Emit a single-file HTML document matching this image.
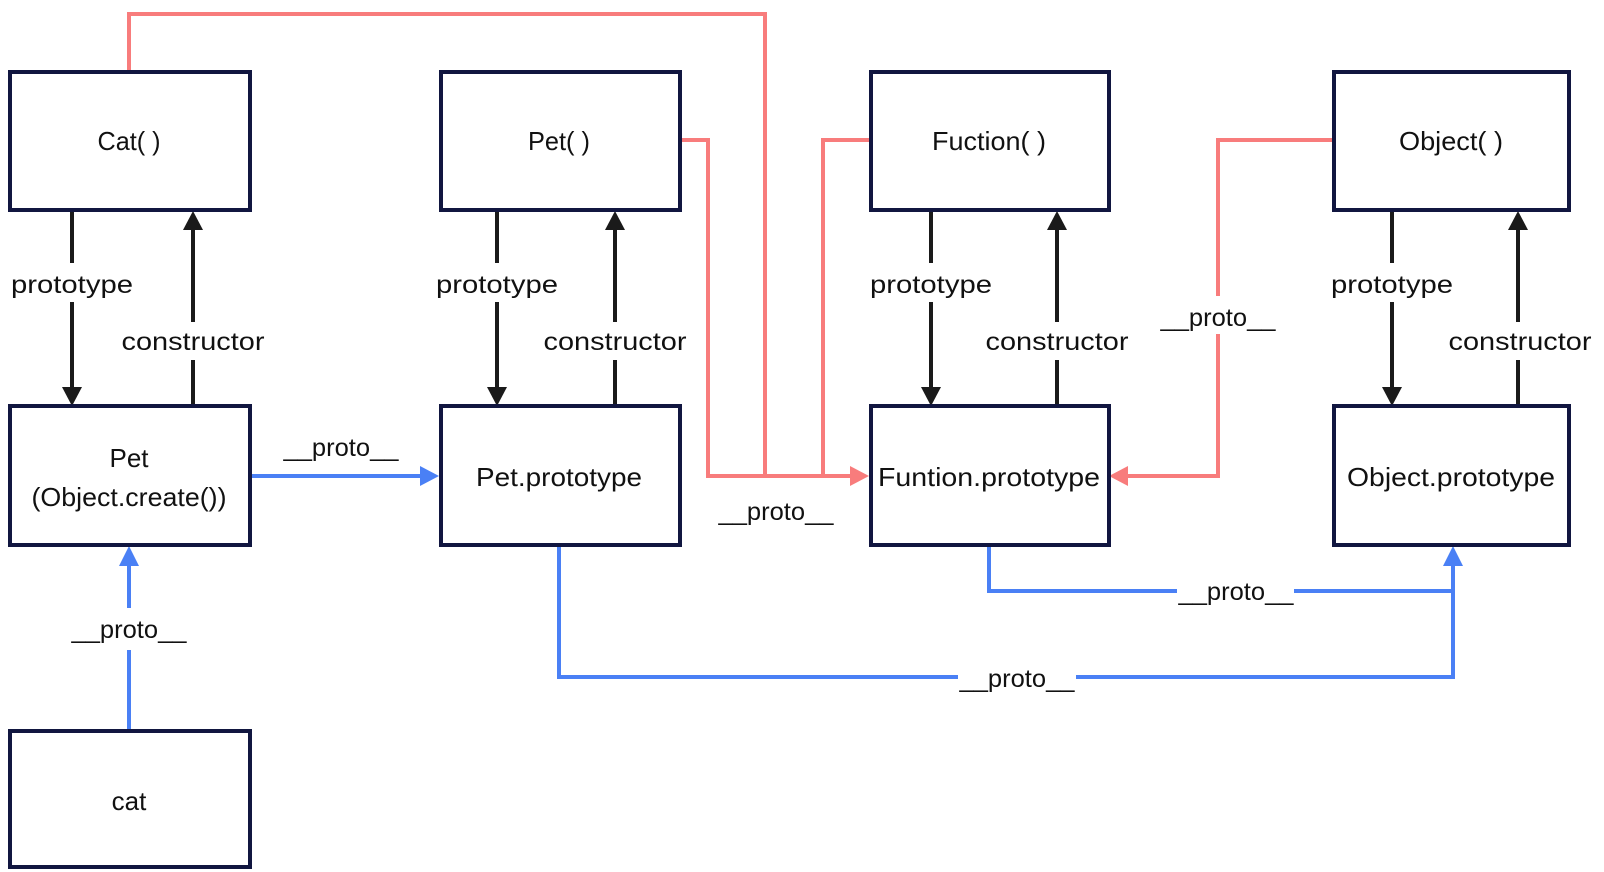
<!DOCTYPE html>
<html><head><meta charset="utf-8"><style>
html,body{margin:0;padding:0;background:#fff;}
svg{display:block;}
text{font-family:"Liberation Sans","DejaVu Sans",sans-serif;font-size:25px;fill:#111;}
.b{font-size:26px;}
</style></head><body>
<svg width="1604" height="872" viewBox="0 0 1604 872" xmlns="http://www.w3.org/2000/svg">
<g fill="none" stroke-width="4">
<polyline points="129,70 129,14 765,14 765,476" stroke="#f87c7c"/>
<polyline points="680,140 708,140 708,476 852,476" stroke="#f87c7c"/>
<polyline points="869,140 823,140 823,476" stroke="#f87c7c"/>
<polyline points="1332,140 1218,140 1218,296" stroke="#f87c7c"/>
<polyline points="1218,334 1218,476 1126,476" stroke="#f87c7c"/>
<line x1="250" y1="476" x2="422" y2="476" stroke="#4a80f5"/>
<polyline points="129,729 129,650" stroke="#4a80f5"/>
<polyline points="129,608 129,566" stroke="#4a80f5"/>
<polyline points="559,546 559,677 958,677" stroke="#4a80f5"/>
<polyline points="1076,677 1453,677 1453,566" stroke="#4a80f5"/>
<polyline points="989,546 989,591 1177,591" stroke="#4a80f5"/>
<line x1="1294" y1="591" x2="1453" y2="591" stroke="#4a80f5"/>
<g stroke="#1a1a1a">
<line x1="72" y1="211" x2="72" y2="263"/><line x1="72" y1="302" x2="72" y2="390"/>
<line x1="193" y1="406" x2="193" y2="360"/><line x1="193" y1="322" x2="193" y2="226"/>
<line x1="497" y1="211" x2="497" y2="263"/><line x1="497" y1="302" x2="497" y2="390"/>
<line x1="615" y1="406" x2="615" y2="360"/><line x1="615" y1="322" x2="615" y2="226"/>
<line x1="931" y1="211" x2="931" y2="263"/><line x1="931" y1="302" x2="931" y2="390"/>
<line x1="1057" y1="406" x2="1057" y2="360"/><line x1="1057" y1="322" x2="1057" y2="226"/>
<line x1="1392" y1="211" x2="1392" y2="263"/><line x1="1392" y1="302" x2="1392" y2="390"/>
<line x1="1518" y1="406" x2="1518" y2="360"/><line x1="1518" y1="322" x2="1518" y2="226"/>
</g>
</g>
<g fill="#1a1a1a">
<path d="M62,387 L82,387 L72,406 z"/><path d="M183,230 L203,230 L193,211 z"/>
<path d="M487,387 L507,387 L497,406 z"/><path d="M605,230 L625,230 L615,211 z"/>
<path d="M921,387 L941,387 L931,406 z"/><path d="M1047,230 L1067,230 L1057,211 z"/>
<path d="M1382,387 L1402,387 L1392,406 z"/><path d="M1508,230 L1528,230 L1518,211 z"/>
</g>
<g fill="#4a80f5">
<path d="M420,466 L439,476 L420,486 z"/>
<path d="M119,566 L139,566 L129,546 z"/>
<path d="M1443,566 L1463,566 L1453,546 z"/>
</g>
<g fill="#f87c7c">
<path d="M850,466 L869,476 L850,486 z"/>
<path d="M1128,466 L1109,476 L1128,486 z"/>
</g>
<g fill="none" stroke="#111640" stroke-width="4">
<rect x="10" y="72" width="240" height="138"/>
<rect x="441" y="72" width="239" height="138"/>
<rect x="871" y="72" width="238" height="138"/>
<rect x="1334" y="72" width="235" height="138"/>
<rect x="10" y="406" width="240" height="139"/>
<rect x="441" y="406" width="239" height="139"/>
<rect x="871" y="406" width="238" height="139"/>
<rect x="1334" y="406" width="235" height="139"/>
<rect x="10" y="731" width="240" height="136"/>
</g>
<g text-anchor="middle">
<text class="b" x="129" y="150" textLength="63" lengthAdjust="spacingAndGlyphs">Cat( )</text>
<text class="b" x="559" y="150" textLength="62" lengthAdjust="spacingAndGlyphs">Pet( )</text>
<text class="b" x="989" y="150" textLength="114" lengthAdjust="spacingAndGlyphs">Fuction( )</text>
<text class="b" x="1451" y="150" textLength="104" lengthAdjust="spacingAndGlyphs">Object( )</text>
<text class="b" x="129" y="467">Pet</text>
<text class="b" x="129" y="506" textLength="195" lengthAdjust="spacingAndGlyphs">(Object.create())</text>
<text class="b" x="559" y="486" textLength="166" lengthAdjust="spacingAndGlyphs">Pet.prototype</text>
<text class="b" x="989" y="486" textLength="222" lengthAdjust="spacingAndGlyphs">Funtion.prototype</text>
<text class="b" x="1451" y="486" textLength="208" lengthAdjust="spacingAndGlyphs">Object.prototype</text>
<text class="b" x="129" y="810">cat</text>
<text x="72" y="293" textLength="122" lengthAdjust="spacingAndGlyphs">prototype</text>
<text x="497" y="293" textLength="122" lengthAdjust="spacingAndGlyphs">prototype</text>
<text x="931" y="293" textLength="122" lengthAdjust="spacingAndGlyphs">prototype</text>
<text x="1392" y="293" textLength="122" lengthAdjust="spacingAndGlyphs">prototype</text>
<text x="193" y="350" textLength="143" lengthAdjust="spacingAndGlyphs">constructor</text>
<text x="615" y="350" textLength="143" lengthAdjust="spacingAndGlyphs">constructor</text>
<text x="1057" y="350" textLength="143" lengthAdjust="spacingAndGlyphs">constructor</text>
<text x="1520" y="350" textLength="143" lengthAdjust="spacingAndGlyphs">constructor</text>
<text x="341" y="456" textLength="115" lengthAdjust="spacingAndGlyphs">__proto__</text>
<text x="776" y="520" textLength="115" lengthAdjust="spacingAndGlyphs">__proto__</text>
<text x="1218" y="326" textLength="115" lengthAdjust="spacingAndGlyphs">__proto__</text>
<text x="129" y="638" textLength="115" lengthAdjust="spacingAndGlyphs">__proto__</text>
<text x="1236" y="600" textLength="115" lengthAdjust="spacingAndGlyphs">__proto__</text>
<text x="1017" y="687" textLength="115" lengthAdjust="spacingAndGlyphs">__proto__</text>
</g>
</svg>
</body></html>
